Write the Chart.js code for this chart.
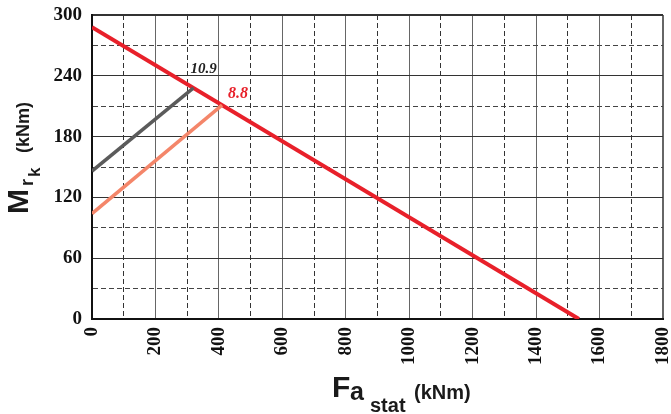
<!DOCTYPE html>
<html>
<head>
<meta charset="utf-8">
<script src="https://cdn.jsdelivr.net/npm/chart.js@4/dist/chart.umd.min.js"></script>
<style>
  body { margin: 0; background: #fff; }
</style>
</head>
<body>
<canvas id="chart" width="671" height="414"></canvas>
<script>
// line end points
const redX = [0, 1535];
const redY = [288, 0];
const greyX = [0, 320];
const greyY = [146, 228];
const orangeX = [0, 410];
const orangeY = [104, 211];

const xLabelStep = 200;   // labelled x ticks
const yLabelStep = 60;    // labelled y ticks
const notes = ['10.9', '8.8'];

function toPoints(xs, ys) {
    return xs.map((x, i) => ({ x: x, y: ys[i] }));
}

const tickFont = { family: 'Liberation Serif', size: 19, weight: 'bold' };

const titlesPlugin = {
    id: 'titles',
    afterDraw(chart) {
        const ctx = chart.ctx;
        ctx.save();
        ctx.fillStyle = '#1a1a1a';
        ctx.textBaseline = 'alphabetic';
        ctx.textAlign = 'left';

        // x title: F a stat (kNm)
        ctx.font = 'bold 30px "Liberation Sans"';
        ctx.fillText('F', 332, 397);
        ctx.font = 'bold 25px "Liberation Sans"';
        ctx.fillText('a', 350, 400);
        ctx.font = 'bold 20px "Liberation Sans"';
        ctx.fillText('stat', 370, 412);
        ctx.font = 'bold 20px "Liberation Sans"';
        ctx.fillText('(kNm)', 414, 399);

        // y title: M r k (kNm), turned
        ctx.translate(28, 214);
        ctx.rotate(-Math.PI / 2);
        ctx.font = 'bold 30px "Liberation Sans"';
        ctx.fillText('M', 0, 0);
        ctx.font = 'bold 18px "Liberation Sans"';
        ctx.fillText('r', 28, 5);
        ctx.font = 'bold 17px "Liberation Sans"';
        ctx.fillText('k', 37, 12);
        ctx.font = 'bold 18px "Liberation Sans"';
        ctx.fillText('(kNm)', 61, 1);
        ctx.restore();
    }
};

const notesPlugin = {
    id: 'notes',
    afterDatasetsDraw(chart) {
        const ctx = chart.ctx;
        const xs = chart.scales.x;
        const ys = chart.scales.y;
        ctx.save();
        ctx.textAlign = 'left';
        ctx.font = 'italic bold 15px "Liberation Serif"';
        ctx.fillStyle = '#222';
        ctx.fillText(notes[0], xs.getPixelForValue(greyX[1]) - 3, ys.getPixelForValue(greyY[1]) - 15);
        ctx.font = 'italic bold 16px "Liberation Serif"';
        ctx.fillStyle = '#e8202a';
        ctx.fillText(notes[1], xs.getPixelForValue(orangeX[1]) + 6, ys.getPixelForValue(orangeY[1]) - 7);
        ctx.restore();
    }
};

new Chart(document.getElementById('chart'), {
    type: 'scatter',
    data: {
        datasets: [
            {
                data: toPoints(greyX, greyY),
                showLine: true,
                borderColor: '#5b5b5b',
                borderWidth: 3.5,
                pointRadius: 0
            },
            {
                data: toPoints(orangeX, orangeY),
                showLine: true,
                borderColor: '#f4866a',
                borderWidth: 3.5,
                pointRadius: 0
            },
            {
                data: toPoints(redX, redY),
                showLine: true,
                borderColor: '#e8202a',
                borderWidth: 4,
                pointRadius: 0
            }
        ]
    },
    options: {
        responsive: false,
        animation: false,
        layout: { padding: { top: 15, right: 8, left: 0, bottom: 0 } },
        plugins: {
            legend: { display: false },
            tooltip: { enabled: false }
        },
        scales: {
            x: {
                type: 'linear',
                min: 0,
                max: 1800,
                afterFit: s => {
                    s.height = 95;
                    s.paddingLeft = 0;
                    s.paddingRight = 0;
                },
                ticks: {
                    stepSize: 100,
                    autoSkip: false,
                    minRotation: 90,
                    maxRotation: 90,
                    padding: 8,
                    color: '#111',
                    font: tickFont,
                    callback: v => (v % xLabelStep === 0 ? v : '')
                },
                grid: {
                    drawTicks: false,
                    color: c => (c.tick && c.tick.value % xLabelStep === 0 ? '#666' : '#333'),
                    lineWidth: c => (c.tick && c.tick.value === 1800 ? 2 : 1)
                },
                border: {
                    color: '#111',
                    width: 2,
                    dash: c => (c.tick && c.tick.value % xLabelStep !== 0 ? [5, 3] : [])
                }
            },
            y: {
                min: 0,
                max: 300,
                afterFit: s => {
                    s.width = 92;
                    s.paddingTop = 0;
                    s.paddingBottom = 0;
                },
                ticks: {
                    stepSize: 30,
                    padding: 10,
                    color: '#111',
                    font: tickFont,
                    callback: v => (v % yLabelStep === 0 ? v : '')
                },
                grid: {
                    drawTicks: false,
                    color: c => (c.tick && c.tick.value % yLabelStep === 0 ? '#333' : '#444'),
                    lineWidth: c => (c.tick && c.tick.value === 300 ? 2 : 1)
                },
                border: {
                    color: '#111',
                    width: 2,
                    dash: c => (c.tick && c.tick.value % yLabelStep !== 0 ? [5, 3] : [])
                }
            }
        }
    },
    plugins: [titlesPlugin, notesPlugin]
});
</script>
</body>
</html>
